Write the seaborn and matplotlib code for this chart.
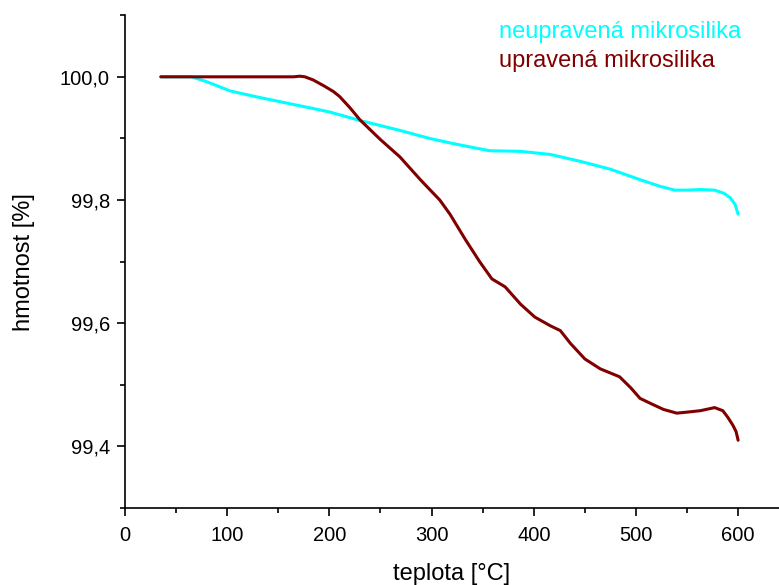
import numpy as np
import pandas as pd
import matplotlib
matplotlib.use("Agg")
import matplotlib.pyplot as plt
import seaborn as sns
from matplotlib.ticker import FuncFormatter, MultipleLocator

# neupravená mikrosilika (untreated)
temp_raw = [35, 50, 65, 80, 103, 130, 171, 200, 230, 269, 298, 320, 338, 357,
            387, 416, 445, 475, 504, 524, 538, 550, 563, 577, 586, 592, 597, 600]
mass_raw = [100.0, 100.0, 100.0, 99.992, 99.977, 99.967, 99.953, 99.943, 99.929,
            99.913, 99.900, 99.892, 99.886, 99.880, 99.879, 99.874, 99.863, 99.850,
            99.833, 99.822, 99.816, 99.816, 99.817, 99.816, 99.811, 99.804, 99.793, 99.777]

# upravená mikrosilika (treated)
temp_mod = [35, 60, 100, 140, 165, 171, 176, 184, 195, 204, 210, 220, 230, 250,
            269, 289, 308, 318, 333, 347, 359, 372, 387, 401, 416, 426, 436, 450,
            465, 484, 495, 504, 514, 527, 540, 552, 563, 577, 585, 590, 595, 598, 600]
mass_mod = [100.0, 100.0, 100.0, 100.0, 100.0, 100.001, 100.0, 99.995, 99.985, 99.976,
            99.968, 99.950, 99.930, 99.898, 99.870, 99.833, 99.800, 99.777, 99.736,
            99.700, 99.672, 99.659, 99.631, 99.610, 99.596, 99.588, 99.567, 99.542,
            99.526, 99.513, 99.495, 99.478, 99.470, 99.460, 99.454, 99.456, 99.458,
            99.463, 99.458, 99.447, 99.434, 99.424, 99.410]

label_raw = "neupravená mikrosilika"
label_mod = "upravená mikrosilika"
c_raw = "#00ffff"
c_mod = "#800000"

sns.set_style("ticks")
plt.rcParams["font.family"] = ["Liberation Sans", "DejaVu Sans"]

df = pd.concat([
    pd.DataFrame({"teplota": temp_raw, "hmotnost": mass_raw, "vzorek": label_raw}),
    pd.DataFrame({"teplota": temp_mod, "hmotnost": mass_mod, "vzorek": label_mod}),
])

fig = plt.figure(figsize=(7.79, 5.85), dpi=100)
ax = fig.add_axes([0.1605, 0.1316, 0.8395, 0.8424])

sns.lineplot(data=df, x="teplota", y="hmotnost", hue="vzorek",
             palette={label_raw: c_raw, label_mod: c_mod},
             linewidth=2.2, legend=False, ax=ax, sort=False)

ax.set_xlim(0, 640)
ax.set_ylim(99.3, 100.1)
ax.xaxis.set_major_locator(MultipleLocator(100))
ax.xaxis.set_minor_locator(MultipleLocator(50))
ax.yaxis.set_major_locator(MultipleLocator(0.2))
ax.yaxis.set_minor_locator(MultipleLocator(0.1))
ax.yaxis.set_major_formatter(FuncFormatter(lambda v, p: f"{v:.1f}".replace(".", ",")))
ax.tick_params(which="major", direction="out", length=6, width=1.2, labelsize=14.5,
               colors="black", labelcolor="black")
ax.tick_params(which="minor", direction="out", length=3.5, width=1.2, colors="black")
ax.tick_params(axis="x", pad=7)
ax.tick_params(axis="y", pad=5)
sns.despine(ax=ax)
for s in ("left", "bottom"):
    ax.spines[s].set_linewidth(1.2)
    ax.spines[s].set_color("black")

ax.set_xlabel("teplota [°C]", fontsize=17, labelpad=13, color="black")
ax.set_ylabel("hmotnost [%]", fontsize=17, labelpad=18, color="black")

ax.text(0.572, 0.965, label_raw, color=c_raw, fontsize=17, transform=ax.transAxes, va="center")
ax.text(0.572, 0.908, label_mod, color=c_mod, fontsize=17, transform=ax.transAxes, va="center")

fig.savefig("out.png", dpi=100)
